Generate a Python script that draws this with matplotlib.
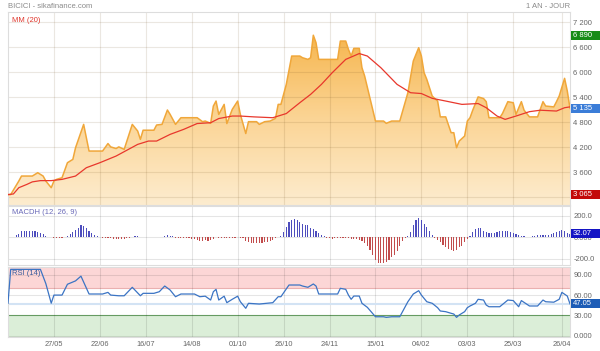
import matplotlib
matplotlib.use("Agg")
import matplotlib.pyplot as plt
import numpy as np
from matplotlib.colors import LinearSegmentedColormap
from matplotlib.patches import Rectangle
from matplotlib.transforms import blended_transform_factory

plt.rcParams["font.family"] = ["Liberation Sans", "DejaVu Sans"]

# session index of each grid line and its date label
grid_days = [17, 34, 51, 68, 85, 102, 119, 136, 153, 170, 187, 205]
grid_labels = ["27/05", "22/06", "16/07", "14/08", "01/10", "26/10",
               "24/11", "15/01", "04/02", "03/03", "25/03", "26/04"]

# closing price (turning points)
price_day = [0, 1, 4, 5, 9, 11, 13, 14, 16, 17, 18, 20, 22, 24, 25, 28, 29, 30,
             35, 37, 38, 40, 41, 43, 46, 48, 49, 50, 54, 55, 57, 59, 60, 62,
             64, 70, 72, 73, 75, 76, 77, 78, 80, 81, 83, 85, 86, 88, 89, 92,
             93, 95, 97, 99, 100, 101, 103, 105, 108, 109, 111, 112, 113, 114,
             115, 122, 123, 125, 126, 127, 128, 130, 131, 132, 136, 139, 140,
             142, 145, 148, 150, 152, 153, 154, 155, 157, 159, 160, 162, 164,
             165, 166, 167, 169, 170, 171, 172, 174, 176, 177, 178, 182, 183,
             185, 187, 188, 190, 191, 193, 196, 198, 199, 202, 203, 204, 206,
             207, 208]
price_close = [3065, 3065, 3390, 3510, 3510, 3590, 3510, 3390, 3230, 3390, 3430,
               3470, 3830, 3910, 4190, 4750, 4430, 4110,
               4110, 4290, 4210, 4170, 4210, 4150, 4750, 4590, 4390, 4610, 4610,
               4735, 4750, 5095, 4990, 4750,
               4910, 4910, 4815, 4830, 4775, 5190, 5310, 4990, 5230, 4770, 5110,
               5310, 4990, 4530, 4815, 4815,
               4750, 4815, 4830, 4895, 5230, 5230, 5710, 6390, 6390, 6350, 6310,
               6350, 6890, 6710,
               6310, 6310, 6750, 6750, 6550, 6390, 6575, 6575, 6110, 5910, 4830,
               4830, 4775,
               4830, 4830, 5510, 6270, 6590, 6390, 5990, 5830, 5430, 5310, 4930,
               4930, 4550,
               4550, 4190, 4350, 4470, 4830, 4910, 5090, 5410, 5370, 5295, 4910,
               4910, 5010,
               5295, 5270, 4990, 5295, 5090, 4930, 4930, 5295, 5190, 5170, 5295,
               5430, 5855,
               5550, 5135]

# moving average MM(20)
mm_day = [0, 2, 4, 7, 9, 12, 16, 20, 25, 29, 34, 40, 48, 52, 55, 60, 65, 70, 75,
          78, 83, 86, 91, 98, 103, 108, 112, 116, 120, 125, 130, 133, 138, 144,
          149, 153, 157, 162, 168, 174, 177, 181, 184, 188, 193, 197, 203, 206,
          208]
mm_value = [3065, 3080, 3230, 3310, 3370, 3400, 3400, 3430, 3510, 3710, 3830,
            3990, 4270, 4350, 4350, 4510, 4630, 4770, 4790,
            4890, 4950, 4950, 4930, 4910, 5010, 5270, 5470, 5710, 5990, 6310,
            6450, 6390, 6110, 5710,
            5510, 5490, 5375, 5310, 5230, 5250, 5150, 4950, 4870, 4950, 5055,
            5090, 5070, 5150,
            5170]

# MACD histogram, one bar per session
macdh = ([0, 0, 0]
         + [25, 35, 55, 62, 62, 62, 62, 60, 52, 40, 28, 12]
         + [0, 0, -3, -4, -5, -3, 4]
         + [15, 28, 45, 65, 90, 112, 105, 82, 60, 42, 25, 10, 3]
         + [-3, -5, -8, -10, -12, -15, -18, -18, -15, -8, -3]
         + [5, 12, 8, 4, 2, 3, 2, 1, 2, 1, 4, 6]
         + [12, 20, 16, 8]
         + [-2, -4, -5, -6, -8, -10, -12]
         + [-20, -26, -30, -30, -28, -30, -25, -15]
         + [0, -5, -3, -8, -10, -5, -8, -3, 0, -4]
         + [-10, -30, -45, -50, -50, -50, -48, -48, -45, -42, -35, -25, -10]
         + [3, 15, 45, 100, 140, 160, 167, 162, 145, 120, 115, 112, 90, 75, 60,
            38, 25, 10]
         + [-5, -10, -12, -5, -3, -5, -3, -8, -10]
         + [-15, -15, -18, -22, -30, -50, -80, -120, -165, -210, -235, -240]
         + [-240, -230, -210, -185, -160, -125, -80, -35, -10]
         + [12, 45, 115, 165, 182, 158, 127, 97, 60, 24]
         + [-6, -24, -45, -67, -91, -106, -121, -130, -115, -91, -76, -45, -15]
         + [15, 45, 76, 91, 85, 60, 45, 36, 36, 36, 45, 60, 60, 55, 60, 45, 36,
            30, 24, 15, 9, 6, 5, 9, 15, 21, 21, 21, 24, 24, 30, 36, 45, 60, 67,
            60, 36, 32.07])

# RSI(14)
rsi_day = [0, 1, 12, 14, 16, 17, 20, 22, 25, 27, 30, 35, 37, 38, 41, 43, 46, 49,
           50, 54, 56, 58, 60, 62, 64, 69, 71, 73, 75, 76, 77, 78, 80, 81, 83,
           85, 86, 88, 89, 93, 98, 100, 101, 104, 108, 109, 111, 113, 114, 115,
           122, 123, 125, 126, 127, 128, 130, 131, 133, 136, 139, 140, 142, 145,
           148, 150, 152, 153, 155, 157, 159, 160, 162, 164, 165, 166, 167, 169,
           170, 171, 173, 174, 176, 177, 178, 182, 185, 187, 189, 190, 193, 196,
           198, 199, 202, 204, 205, 207, 208]
rsi_value = [48, 98, 98, 77, 48, 60, 60, 76, 81, 88, 61.6, 61.6, 64, 60, 59, 59,
             71.5, 59,
             62.6, 62.6, 65, 73.4, 67.5, 57.6, 61.6, 61.6, 57.6, 58.4, 52.7, 65,
             68.5, 52.7, 58.4, 48.8, 53.8,
             58.4, 50.2, 40.5, 47.9, 46.8, 48.8, 57.6, 57.6, 74.9, 74.9, 73.4,
             71.5, 76.4, 73.4, 61.6,
             61.6, 70, 68.5, 60, 53.8, 58.6, 58.6, 47.9, 41.9, 28, 28, 27.1, 28,
             28,
             50.2, 61.6, 66.5, 60, 50.2, 47.9, 41.4, 36.5, 35.5, 33.1, 32, 27.1,
             30.6, 35.5,
             41.4, 43.9, 47.9, 53.8, 52.7, 45.3, 42.8, 42.8, 52.7, 51.9, 42.8,
             51.9, 43.9, 43.9,
             52.7, 50.2, 49.5, 53.8, 64, 58.6, 47.05]

price_ticks = [3600, 4200, 4800, 5400, 6000, 6600, 7200]
macd_ticks = [200, 0, -200]
macd_tick_labels = ["200.0", "0.000", "-200.0"]
rsi_ticks = [90, 60, 30, 0]
rsi_tick_labels = ["90.00", "60.00", "30.00", "0.000"]

last_day = len(macdh) - 1
label_color = "#666666"

fig = plt.figure(figsize=(6.0, 3.51), dpi=100)
ax_price = fig.add_axes([0.01333, 0.41595, 0.93667, 0.549])
ax_macd = fig.add_axes([0.01333, 0.24501, 0.93667, 0.16809])
ax_rsi = fig.add_axes([0.01333, 0.03989, 0.93667, 0.19943])

for ax in (ax_price, ax_macd, ax_rsi):
    ax.set_xlim(0, last_day)
    ax.set_xticks(grid_days)
    ax.grid(True, color="black", alpha=0.1, lw=0.8)
    ax.yaxis.tick_right()
    ax.tick_params(length=0, labelsize=5.5, labelcolor=label_color, pad=2.5)
    ax.tick_params(axis="x", labelbottom=False)
    for sp in ax.spines.values():
        sp.set_color("#dddddd")
        sp.set_linewidth(0.8)

# --- price panel ---
y_lo, y_hi = 2815, 7440
ax_price.set_ylim(y_lo, y_hi)
ax_price.set_yticks([3000] + price_ticks)
ax_price.set_yticklabels([""] + [f"{v:,}".replace(",", " ") for v in price_ticks])
ax_price.grid(False)

area = ax_price.fill_between(price_day, price_close, y_lo, color="none", lw=0)
cmap = LinearSegmentedColormap.from_list("sika", ["#fdeccf", "#fbd596", "#f6b64f"])
grad = np.linspace(0, 1, 256).reshape(-1, 1)
im = ax_price.imshow(grad, aspect="auto", cmap=cmap, origin="lower",
                     extent=[0, last_day, y_lo, 6900], zorder=0.8)
im.set_clip_path(area.get_paths()[0], transform=ax_price.transData)

# grid drawn on top of the gradient area, as on the site
for d in grid_days:
    ax_price.axvline(d, color="#6b4a1a", alpha=0.13, lw=0.8, zorder=2)
for v in [3000] + price_ticks:
    ax_price.axhline(v, color="#6b4a1a", alpha=0.13, lw=0.8, zorder=2)

ax_price.plot(price_day, price_close, color="#f0a73a", lw=1.1, zorder=3)
ax_price.plot(mm_day, mm_value, color="#e8372c", lw=0.9, zorder=4)
ax_price.set_xlim(0, last_day)
ax_price.set_ylim(y_lo, y_hi)

ax_price.text(0.008, 0.975, "MM (20)", transform=ax_price.transAxes,
              color="#e0352b", fontsize=5.5, va="top", ha="left")

# --- MACD histogram ---
macd_days = np.arange(len(macdh))
macd_vals = np.array(macdh)
bar_colors = np.where(macd_vals >= 0, "#4d4dbd", "#c24c4c")
ax_macd.bar(macd_days, macd_vals, width=0.42, color=bar_colors, zorder=3)
ax_macd.set_ylim(-256, 290)
ax_macd.set_yticks(macd_ticks)
ax_macd.set_yticklabels(macd_tick_labels)
ax_macd.text(0.008, 0.95, "MACDH (12, 26, 9)", transform=ax_macd.transAxes,
             color="#6a6ab8", fontsize=5.5, va="top", ha="left")

# --- RSI ---
ax_rsi.set_ylim(-1.9, 101.5)
ax_rsi.axhspan(70, 101.5, color="#fcd6d6", lw=0, zorder=1)
ax_rsi.axhline(70, color="#eab0b0", lw=0.8, zorder=1)
ax_rsi.axhspan(-1.9, 30, color="#dbeed8", lw=0, zorder=1)
ax_rsi.axhline(30, color="#72ad6e", lw=0.8, zorder=1)
ax_rsi.axhline(rsi_value[-1], color="#d3e3f4", lw=1.5, zorder=2)
ax_rsi.plot(rsi_day, rsi_value, color="#3b74c4", lw=0.9, zorder=3)
ax_rsi.set_yticks(rsi_ticks)
ax_rsi.set_yticklabels(rsi_tick_labels)
ax_rsi.set_xticklabels(grid_labels)
ax_rsi.tick_params(axis="x", labelbottom=True, labelsize=5.3, pad=3)
ax_rsi.text(0.008, 0.95, "RSI (14)", transform=ax_rsi.transAxes,
            color="#3a5c9c", fontsize=5.5, va="top", ha="left", zorder=5)


def value_box(ax, y, text, color):
    # filled tag from the right edge of the panel to the edge of the figure
    lo, hi = ax.get_ylim()
    h_px = ax.get_position().height * 351
    box_h = 9 * (hi - lo) / h_px
    tr = blended_transform_factory(fig.transFigure, ax.transData)
    ax.add_patch(Rectangle((571 / 600, y - box_h / 2), 29 / 600, box_h,
                           transform=tr, fc=color, ec="none", clip_on=False,
                           zorder=9))
    ax.text(573 / 600, y, text, transform=tr, color="white", fontsize=5.5,
            va="center", ha="left", clip_on=False, zorder=10)


value_box(ax_price, max(price_close), "6 890", "#178c17")
value_box(ax_price, min(price_close), "3 065", "#c30a0a")
value_box(ax_price, price_close[-1], "5 135", "#3b7dd8")
value_box(ax_macd, macdh[-1], f"{macdh[-1]:.2f}", "#1414c4")
value_box(ax_rsi, rsi_value[-1], f"{rsi_value[-1]:.2f}", "#1d5cb6")

fig.text(8 / 600, 1 - 7 / 351, "BICICI - sikafinance.com", color="#8a8a8a",
         fontsize=5.5, va="center", ha="left")
fig.text(570 / 600, 1 - 6 / 351, "1 AN - JOUR", color="#8a8a8a",
         fontsize=5.5, va="center", ha="right")

fig.savefig("out.png", dpi=100)
